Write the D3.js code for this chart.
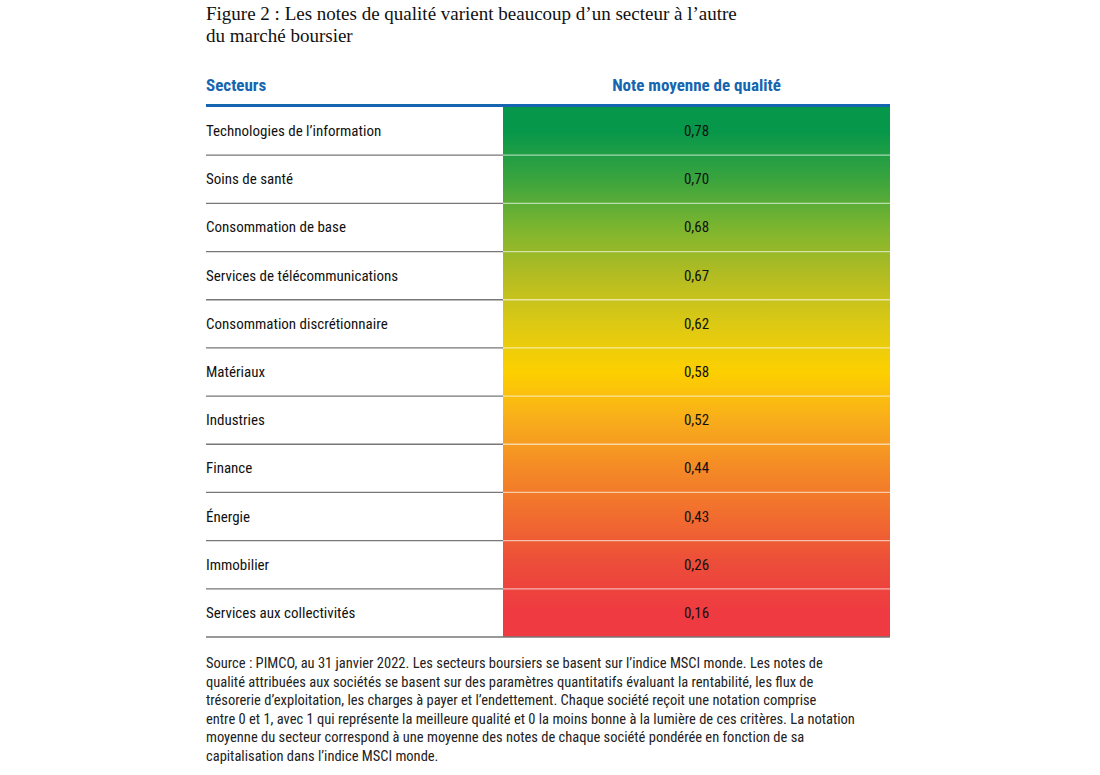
<!DOCTYPE html><html><head><meta charset="utf-8"><script src="https://cdn.jsdelivr.net/npm/d3@7"></script>
<style>body{margin:0;background:#fff}</style></head><body><svg id="c" width="1100" height="775"></svg>
<script>
const sectors=["Technologies de l’information","Soins de santé","Consommation de base","Services de télécommunications","Consommation discrétionnaire","Matériaux","Industries","Finance","Énergie","Immobilier","Services aux collectivités"];
const scores=[0.78,0.70,0.68,0.67,0.62,0.58,0.52,0.44,0.43,0.26,0.16];
const rowColors=["#06974a","#3aa43e","#7cb52f","#b3bc22","#dcc914","#fdd000","#f8ad1b","#f48a26","#f16c2f","#ec4c3a","#ef3a41"];
const note=["Source : PIMCO, au 31 janvier 2022. Les secteurs boursiers se basent sur l’indice MSCI monde. Les notes de","qualité attribuées aux sociétés se basent sur des paramètres quantitatifs évaluant la rentabilité, les flux de","trésorerie d’exploitation, les charges à payer et l’endettement. Chaque société reçoit une notation comprise","entre 0 et 1, avec 1 qui représente la meilleure qualité et 0 la moins bonne à la lumière de ces critères. La notation","moyenne du secteur correspond à une moyenne des notes de chaque société pondérée en fonction de sa","capitalisation dans l’indice MSCI monde."];
(function(){
const svg=d3.select("#c");
const F="'Liberation Sans Narrow','Roboto Condensed',Roboto,sans-serif";
svg.append("text").attr("x",206).attr("y",20).attr("font-family","'Liberation Serif','DejaVu Serif',serif").attr("font-size",19).attr("fill","#111").text("Figure 2 : Les notes de qualité varient beaucoup d’un secteur à l’autre");
svg.append("text").attr("x",206).attr("y",42).attr("font-family","'Liberation Serif','DejaVu Serif',serif").attr("font-size",19).attr("fill","#111").text("du marché boursier");
const L=206,M=503,R=890,T0=107,B0=637;
const y=d3.scaleBand().domain(sectors).range([T0,B0]);
svg.append("text").attr("x",L).attr("y",91).attr("font-family",F).attr("font-weight","bold").attr("font-size",17).attr("fill","#1565b0").text("Secteurs");
svg.append("text").attr("x",(M+R)/2).attr("y",91).attr("text-anchor","middle").attr("font-family",F).attr("font-weight","bold").attr("font-size",17).attr("fill","#1565b0").text("Note moyenne de qualité");
const g=svg.append("defs").append("linearGradient").attr("id","gr").attr("x1",0).attr("x2",0).attr("y1",0).attr("y2",1);
sectors.forEach((s,i)=>g.append("stop").attr("offset",(i+0.5)/sectors.length).attr("stop-color",rowColors[i]));
svg.append("rect").attr("x",M).attr("y",T0).attr("width",R-M).attr("height",B0-T0).attr("fill","url(#gr)");
svg.append("rect").attr("x",L).attr("y",104).attr("width",R-L).attr("height",3).attr("fill","#1565b0");
sectors.forEach((s,i)=>{
 const yy=y(s)+y.bandwidth();
 svg.append("line").attr("x1",L).attr("x2",M).attr("y1",yy).attr("y2",yy).attr("stroke","#777").attr("stroke-width",1.3);
 if(i<sectors.length-1) svg.append("line").attr("x1",M).attr("x2",R).attr("y1",yy).attr("y2",yy).attr("stroke","#fff").attr("stroke-opacity",0.6).attr("stroke-width",1.3);
 else svg.append("line").attr("x1",M).attr("x2",R).attr("y1",yy).attr("y2",yy).attr("stroke","#777").attr("stroke-width",1.3);
 svg.append("text").attr("x",L).attr("y",y(s)+y.bandwidth()/2+5).attr("font-family",F).attr("font-size",15).attr("fill","#111").text(s);
 svg.append("text").attr("x",(M+R)/2).attr("y",y(s)+y.bandwidth()/2+5).attr("text-anchor","middle").attr("font-family",F).attr("font-size",15).attr("fill","#111").text(scores[i].toFixed(2).replace(".",","));
});
note.forEach((t,i)=>svg.append("text").attr("x",L).attr("y",668+i*18.6).attr("font-family",F).attr("font-size",14.5).attr("fill","#222").text(t));
})();
</script></body></html>
